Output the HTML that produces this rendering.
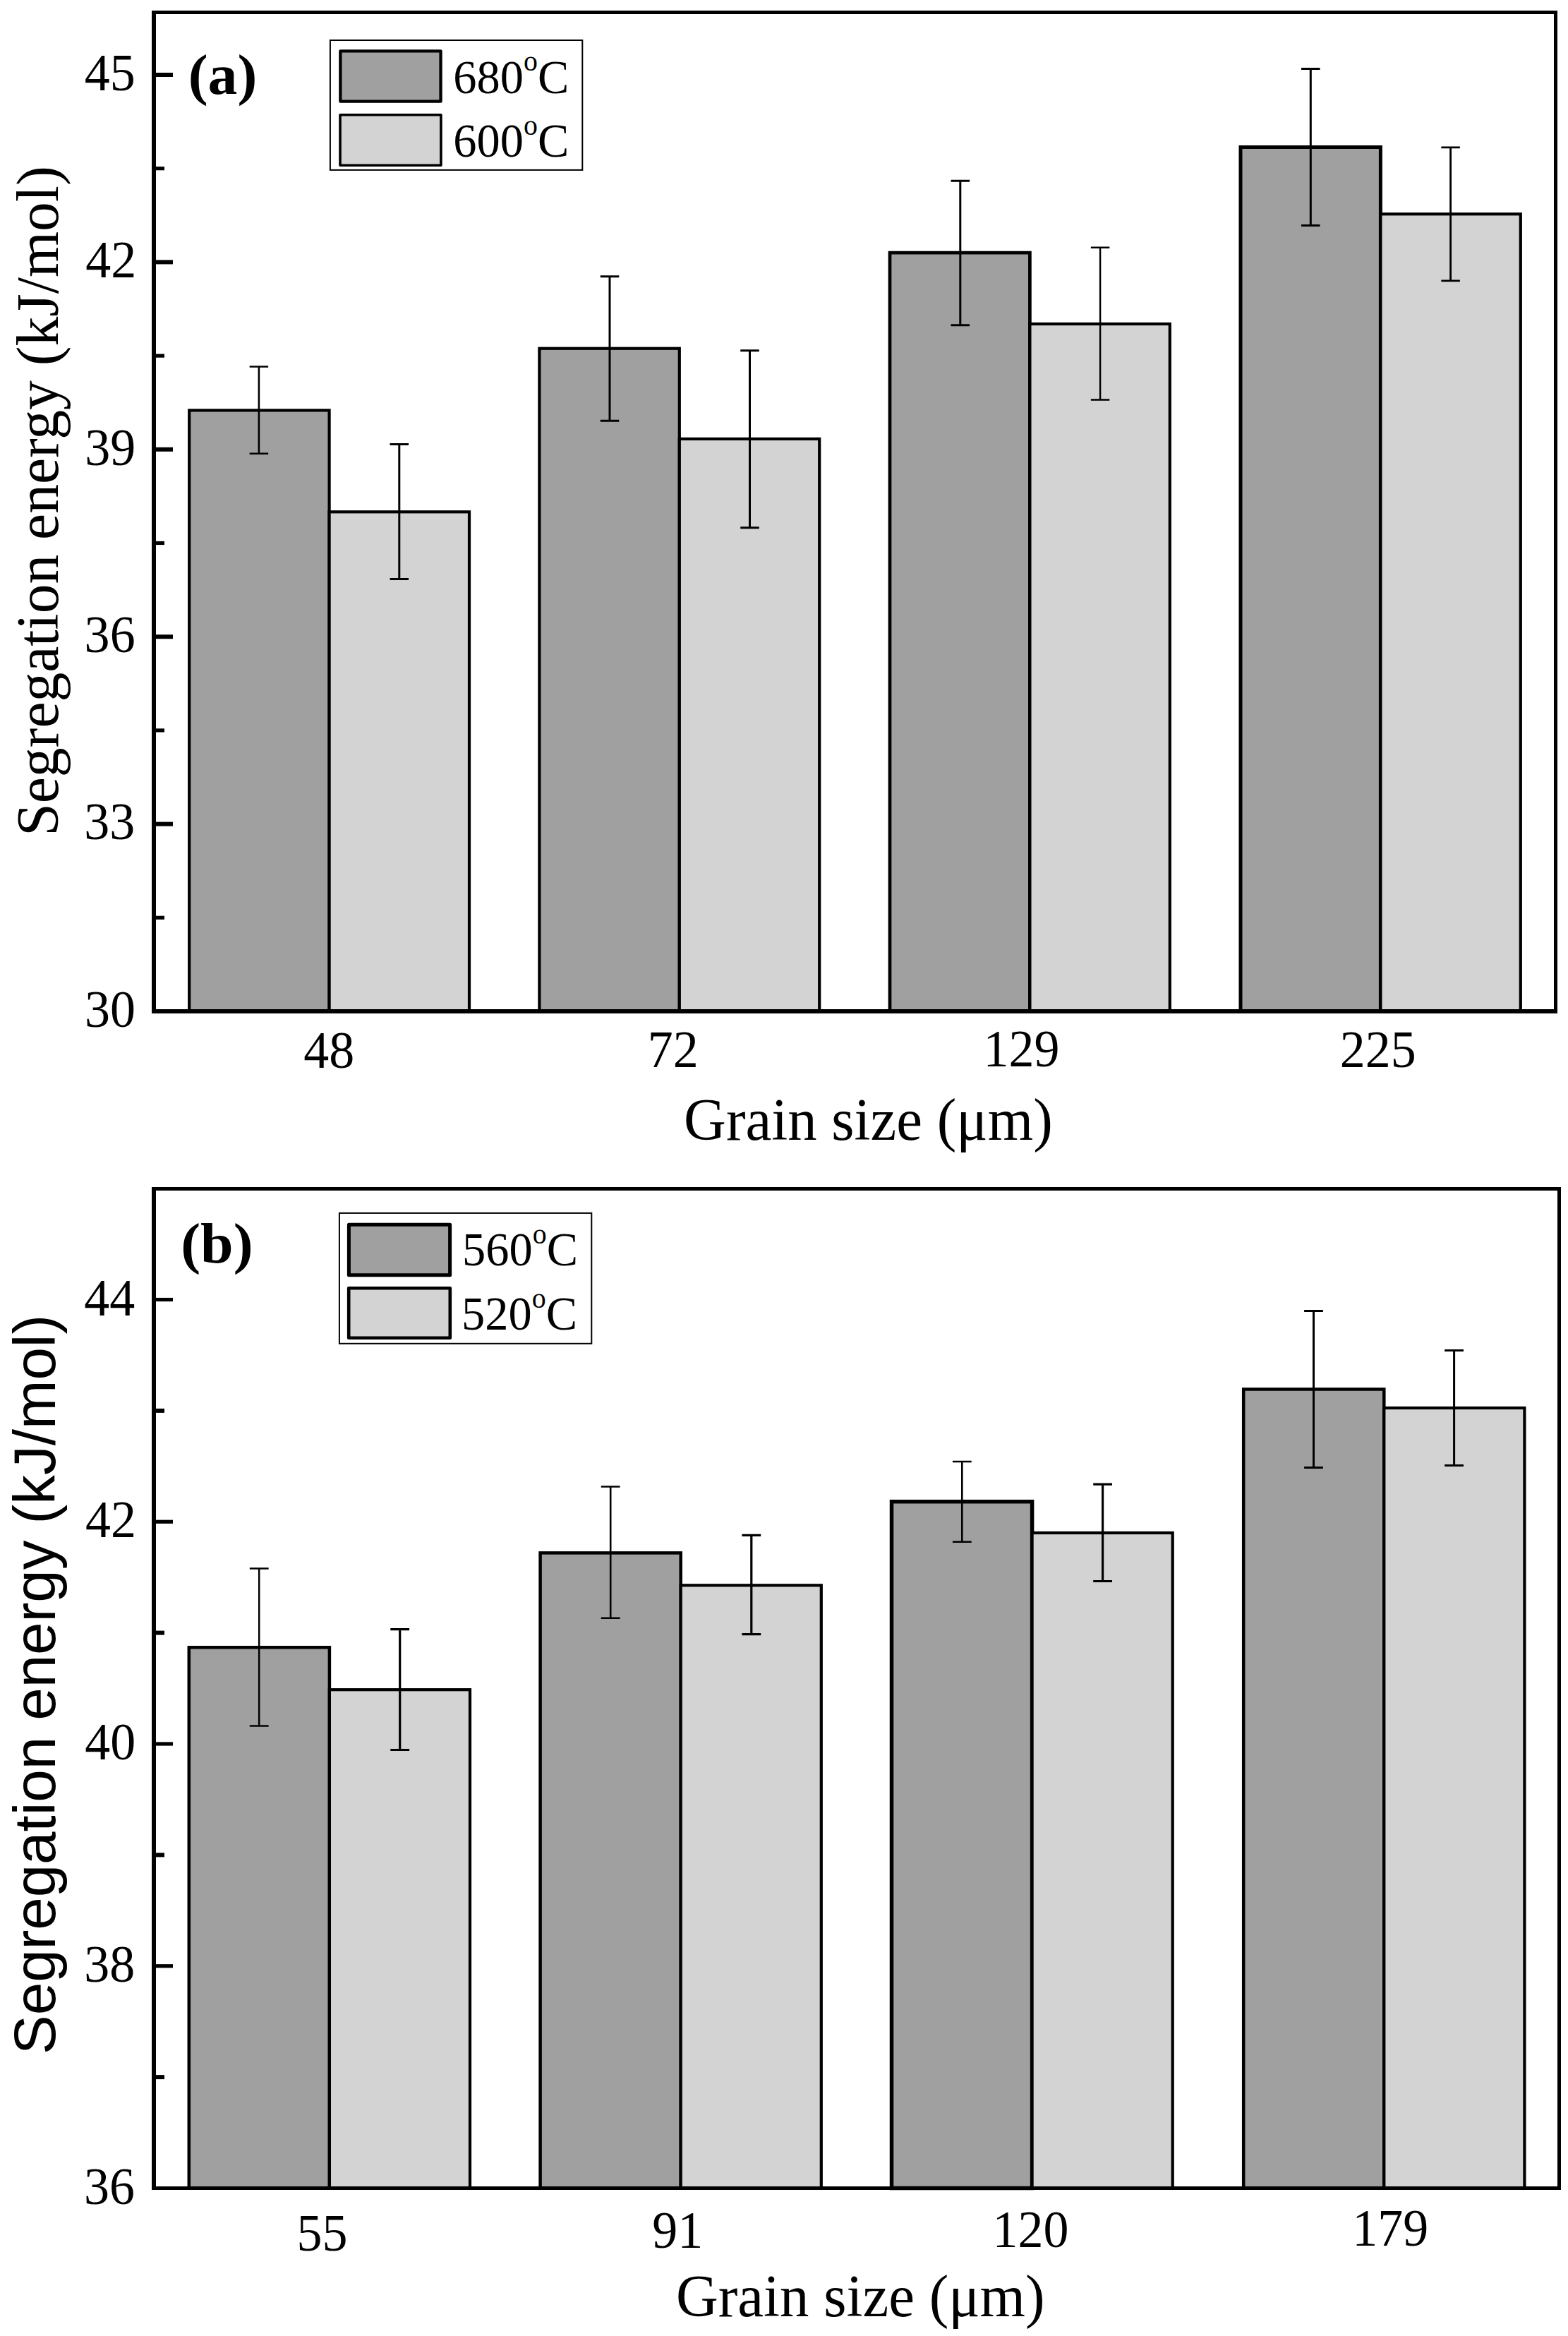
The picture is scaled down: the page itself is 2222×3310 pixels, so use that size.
<!DOCTYPE html>
<html lang="en"><head><meta charset="utf-8"><title>Segregation energy vs grain size</title>
<style>html,body{margin:0;padding:0;background:#fff}body{width:2222px;height:3310px;overflow:hidden}svg{display:block}text{font-family:"Liberation Serif", "DejaVu Serif", serif;fill:#000}</style>
</head><body>
<svg width="2222" height="3310" viewBox="0 0 2222 3310">
<rect width="2222" height="3310" fill="#fff"/>
<g>
<rect x="268.2" y="581.4" width="198.4" height="851.6" fill="#a0a0a0" stroke="#000" stroke-width="4.2"/>
<rect x="466.6" y="725.3" width="198.4" height="707.7" fill="#d3d3d3" stroke="#000" stroke-width="4.2"/>
<rect x="764.4" y="493.75" width="198.4" height="939.25" fill="#a0a0a0" stroke="#000" stroke-width="4.2"/>
<rect x="962.8" y="621.9" width="198.4" height="811.1" fill="#d3d3d3" stroke="#000" stroke-width="4.2"/>
<rect x="1261" y="358.1" width="198.4" height="1074.9" fill="#a0a0a0" stroke="#000" stroke-width="4.7"/>
<rect x="1459.4" y="459" width="198.4" height="974" fill="#d3d3d3" stroke="#000" stroke-width="4.2"/>
<rect x="1758" y="208.5" width="198.4" height="1224.5" fill="#a0a0a0" stroke="#000" stroke-width="5"/>
<rect x="1956.4" y="303.3" width="198.4" height="1129.7" fill="#d3d3d3" stroke="#000" stroke-width="4.2"/>
<path d="M366.9 519.5V642.7M353.65 519.5H380.15M353.65 642.7H380.15" fill="none" stroke="#000" stroke-width="2.6"/>
<path d="M565.8 629.5V820.6M552.55 629.5H579.05M552.55 820.6H579.05" fill="none" stroke="#000" stroke-width="3"/>
<path d="M864 391.7V596.2M850.75 391.7H877.25M850.75 596.2H877.25" fill="none" stroke="#000" stroke-width="3"/>
<path d="M1062.5 496.7V747.7M1049.25 496.7H1075.75M1049.25 747.7H1075.75" fill="none" stroke="#000" stroke-width="3"/>
<path d="M1360.8 256.2V460.7M1347.55 256.2H1374.05M1347.55 460.7H1374.05" fill="none" stroke="#000" stroke-width="3"/>
<path d="M1559.1 350.8V566.5M1545.85 350.8H1572.35M1545.85 566.5H1572.35" fill="none" stroke="#000" stroke-width="2.4"/>
<path d="M1857.3 97.4V319.5M1844.05 97.4H1870.55M1844.05 319.5H1870.55" fill="none" stroke="#000" stroke-width="3"/>
<path d="M2055.6 208.9V397.9M2042.35 208.9H2068.85M2042.35 397.9H2068.85" fill="none" stroke="#000" stroke-width="2.8"/>
<rect x="220" y="1297.7" width="13" height="5.2" fill="#000"/>
<rect x="220" y="1164.6" width="25" height="6" fill="#000"/>
<rect x="220" y="1032.3" width="13" height="5.2" fill="#000"/>
<rect x="220" y="899.2" width="25" height="6" fill="#000"/>
<rect x="220" y="766.9" width="13" height="5.2" fill="#000"/>
<rect x="220" y="633.8" width="25" height="6" fill="#000"/>
<rect x="220" y="501.5" width="13" height="5.2" fill="#000"/>
<rect x="220" y="368.4" width="25" height="6" fill="#000"/>
<rect x="220" y="236.1" width="13" height="5.2" fill="#000"/>
<rect x="220" y="103" width="25" height="6" fill="#000"/>
<rect x="215" y="15" width="6" height="1421" fill="#000"/>
<rect x="2202" y="15" width="5" height="1421" fill="#000"/>
<rect x="215" y="15" width="1992" height="5" fill="#000"/>
<rect x="215" y="1430" width="1992" height="6" fill="#000"/>
<text transform="translate(119.98 1454.8) scale(0.9760 1)" font-size="73.8" text-anchor="start">30</text>
<text transform="translate(119.23 1189.4) scale(0.9760 1)" font-size="73.8" text-anchor="start">33</text>
<text transform="translate(119.62 924) scale(0.9760 1)" font-size="73.8" text-anchor="start">36</text>
<text transform="translate(120.18 658.6) scale(0.9760 1)" font-size="73.8" text-anchor="start">39</text>
<text transform="translate(121.35 393.2) scale(0.9760 1)" font-size="73.8" text-anchor="start">42</text>
<text transform="translate(119.66 127.8) scale(0.9760 1)" font-size="73.8" text-anchor="start">45</text>
<text transform="translate(430.21 1512.67) scale(0.9760 1)" font-size="73.8">48</text>
<text transform="translate(917.73 1511.55) scale(0.9760 1)" font-size="73.8">72</text>
<text transform="translate(1393.53 1511.18) scale(0.9760 1)" font-size="73.8">129</text>
<text transform="translate(1898.85 1511.63) scale(0.9760 1)" font-size="73.8">225</text>
<text transform="translate(969.09 1614.8) scale(0.9790 1)" font-size="84.6">Grain size (μm)</text>
<text transform="translate(82.4 1184.69) rotate(-90) scale(0.9850 1)" font-size="84.8">Segregation energy (kJ/mol)</text>
<text transform="translate(266.71 132.65) scale(1.0470 1)" font-size="80" font-weight="bold">(a)</text>
<rect x="467.9" y="57" width="357.4" height="183.9" fill="#fff" stroke="#000" stroke-width="2"/>
<rect x="482.35" y="72.45" width="142.2" height="71.2" fill="#a0a0a0" stroke="#000" stroke-width="4.3" stroke-linejoin="round"/>
<rect x="482" y="162.8" width="142.9" height="71.4" fill="#d3d3d3" stroke="#000" stroke-width="3.6" stroke-linejoin="round"/>
<text transform="translate(642.36 131.5) scale(0.9760 1)" font-size="68.1">680<tspan font-size="40.86" dy="-31.33">o</tspan><tspan dy="31.33">C</tspan></text>
<text transform="translate(642.36 221.9) scale(0.9760 1)" font-size="68.1">600<tspan font-size="40.86" dy="-31.33">o</tspan><tspan dy="31.33">C</tspan></text>
</g><g>
<rect x="267.8" y="2334.3" width="199.1" height="766.2" fill="#a0a0a0" stroke="#000" stroke-width="4.5"/>
<rect x="466.9" y="2394.2" width="199.1" height="706.3" fill="#d3d3d3" stroke="#000" stroke-width="4.2"/>
<rect x="765.6" y="2200.4" width="199.1" height="900.1" fill="#a0a0a0" stroke="#000" stroke-width="4.5"/>
<rect x="964.7" y="2246.3" width="199.1" height="854.2" fill="#d3d3d3" stroke="#000" stroke-width="4.2"/>
<rect x="1263.5" y="2127.7" width="199.1" height="972.8" fill="#a0a0a0" stroke="#000" stroke-width="5.5"/>
<rect x="1462.6" y="2172" width="199.1" height="928.5" fill="#d3d3d3" stroke="#000" stroke-width="4.2"/>
<rect x="1762.2" y="1968.5" width="199.1" height="1132" fill="#a0a0a0" stroke="#000" stroke-width="4.5"/>
<rect x="1961.3" y="1995" width="199.1" height="1105.5" fill="#d3d3d3" stroke="#000" stroke-width="4.2"/>
<path d="M367.2 2222.4V2445.5M353.8 2222.4H380.6M353.8 2445.5H380.6" fill="none" stroke="#000" stroke-width="2.5"/>
<path d="M566.7 2308.6V2479.5M553.3 2308.6H580.1M553.3 2479.5H580.1" fill="none" stroke="#000" stroke-width="3.2"/>
<path d="M865.2 2106.5V2292.7M851.8 2106.5H878.6M851.8 2292.7H878.6" fill="none" stroke="#000" stroke-width="2.6"/>
<path d="M1064.8 2175.3V2315.7M1051.4 2175.3H1078.2M1051.4 2315.7H1078.2" fill="none" stroke="#000" stroke-width="3.2"/>
<path d="M1363.3 2071V2184.7M1349.9 2071H1376.7M1349.9 2184.7H1376.7" fill="none" stroke="#000" stroke-width="2.6"/>
<path d="M1562.6 2103.1V2240.5M1549.2 2103.1H1576M1549.2 2240.5H1576" fill="none" stroke="#000" stroke-width="3.2"/>
<path d="M1861.5 1857.4V2079.5M1848.1 1857.4H1874.9M1848.1 2079.5H1874.9" fill="none" stroke="#000" stroke-width="3"/>
<path d="M2060.6 1913.5V2076.4M2047.2 1913.5H2074M2047.2 2076.4H2074" fill="none" stroke="#000" stroke-width="3"/>
<rect x="220" y="2940.12" width="13" height="6" fill="#000"/>
<rect x="220" y="2783.15" width="25" height="5.2" fill="#000"/>
<rect x="220" y="2625.38" width="13" height="6" fill="#000"/>
<rect x="220" y="2468.4" width="25" height="5.2" fill="#000"/>
<rect x="220" y="2310.62" width="13" height="6" fill="#000"/>
<rect x="220" y="2153.65" width="25" height="5.2" fill="#000"/>
<rect x="220" y="1995.88" width="13" height="6" fill="#000"/>
<rect x="220" y="1838.9" width="25" height="5.2" fill="#000"/>
<rect x="215" y="1682" width="6" height="1421" fill="#000"/>
<rect x="2207" y="1682" width="5" height="1421" fill="#000"/>
<rect x="215" y="1682" width="1997" height="5" fill="#000"/>
<rect x="215" y="3098" width="1997" height="5" fill="#000"/>
<text transform="translate(119.07 3122.7) scale(0.9760 1)" font-size="73.8" text-anchor="start">36</text>
<text transform="translate(119.28 2807.95) scale(0.9760 1)" font-size="73.8" text-anchor="start">38</text>
<text transform="translate(120.36 2493.2) scale(0.9760 1)" font-size="73.8" text-anchor="start">40</text>
<text transform="translate(120.9 2178.45) scale(0.9760 1)" font-size="73.8" text-anchor="start">42</text>
<text transform="translate(119.31 1863.7) scale(0.9760 1)" font-size="73.8" text-anchor="start">44</text>
<text transform="translate(420.42 3189.1) scale(0.9760 1)" font-size="73.8">55</text>
<text transform="translate(924.27 3185.18) scale(0.9760 1)" font-size="73.8">91</text>
<text transform="translate(1406.43 3183.97) scale(0.9760 1)" font-size="73.8">120</text>
<text transform="translate(1916.23 3181.74) scale(0.9760 1)" font-size="73.8">179</text>
<text transform="translate(957.94 3282.2) scale(0.9790 1)" font-size="84.6">Grain size (μm)</text>
<text transform="translate(78.31 2910.93) rotate(-90) scale(0.9900 1)" font-size="84.3" style='font-family:"Liberation Sans", "DejaVu Sans", sans-serif'>Segregation energy (kJ/mol)</text>
<text transform="translate(256.2 1788.6) scale(1.0470 1)" font-size="80" font-weight="bold">(b)</text>
<rect x="480.9" y="1718.9" width="357.4" height="184.9" fill="#fff" stroke="#000" stroke-width="2"/>
<rect x="494.4" y="1735.2" width="143.2" height="71.5" fill="#a0a0a0" stroke="#000" stroke-width="5" stroke-linejoin="round"/>
<rect x="494.2" y="1825.3" width="143.6" height="70.4" fill="#d3d3d3" stroke="#000" stroke-width="4.6" stroke-linejoin="round"/>
<text transform="translate(655.11 1793.4) scale(0.9760 1)" font-size="68.1">560<tspan font-size="40.86" dy="-31.33">o</tspan><tspan dy="31.33">C</tspan></text>
<text transform="translate(654.06 1884.2) scale(0.9760 1)" font-size="68.1">520<tspan font-size="40.86" dy="-31.33">o</tspan><tspan dy="31.33">C</tspan></text>
</g></svg></body></html>
